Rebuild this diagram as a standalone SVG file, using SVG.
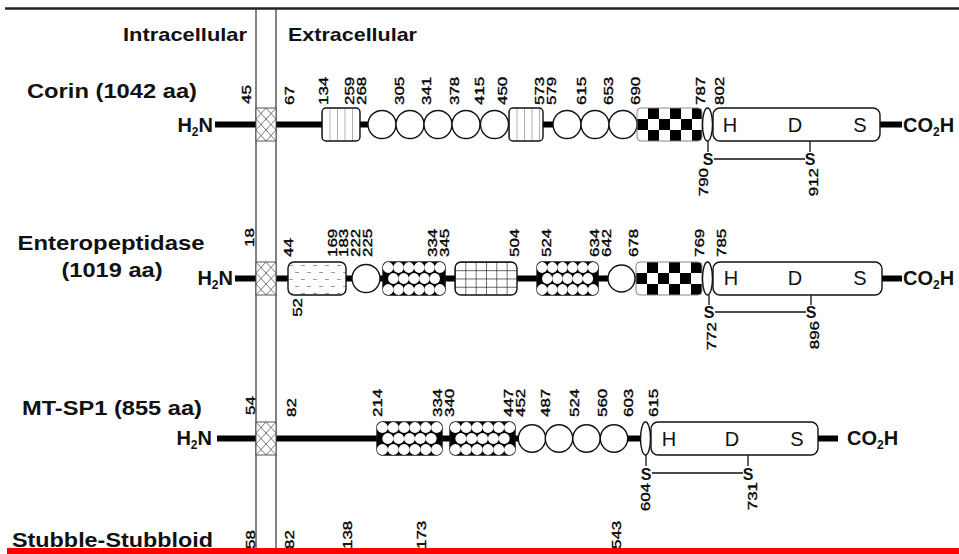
<svg xmlns="http://www.w3.org/2000/svg" xmlns:xlink="http://www.w3.org/1999/xlink" width="959" height="554" viewBox="0 0 959 554">
<style>
text{font-family:"Liberation Sans",Arial,Helvetica,sans-serif;fill:#111}
.t{font-size:19px;font-weight:bold}
.name{font-size:21px;font-weight:bold}
.term{font-size:20px;font-weight:bold}
.sub{font-size:12px}
.n{font-size:13px;fill:#000;stroke:#000;stroke-width:0.35}
.hds{font-size:20px;text-anchor:middle}
.ss{font-size:16px;font-weight:bold;text-anchor:middle}
.bb{stroke:#000;stroke-width:6;fill:none}
.thin{stroke:#111;stroke-width:1.3;fill:none}
.mem{stroke:#333;stroke-width:1.2}
.dom{stroke:#111;stroke-width:1.4}
.circ{fill:#fff;stroke:#111;stroke-width:1.4}
</style>
<defs>
<pattern id="hatch" patternUnits="userSpaceOnUse" x="0" y="-16.5" width="10" height="11">
<rect width="10" height="11" fill="#fff"/>
<path d="M0,0L10,11M10,0L0,11" stroke="#777" stroke-width="1"/>
</pattern>
<pattern id="stripes" patternUnits="userSpaceOnUse" x="0" y="-16.5" width="7.5" height="33">
<rect width="7.5" height="33" fill="#fff"/>
<path d="M0,0V33" stroke="#666" stroke-width="1"/>
</pattern>
<pattern id="stipple" patternUnits="userSpaceOnUse" x="0" y="-16.5" width="12" height="14">
<rect width="12" height="14" fill="#fff"/>
<path d="M1,3.5H5M7,10.5H11" stroke="#999" stroke-width="1"/>
</pattern>
<pattern id="grid" patternUnits="userSpaceOnUse" x="0" y="-16.5" width="10.33" height="8.25">
<rect width="10.33" height="8.25" fill="#fff"/>
<path d="M0,0V8.25M0,0H10.33" stroke="#222" stroke-width="1.3"/>
</pattern>
<pattern id="checker" patternUnits="userSpaceOnUse" x="0" y="-16.5" width="22" height="22">
<rect width="22" height="22" fill="#fff"/>
<rect x="11" y="0" width="11" height="11" fill="#000"/>
<rect x="0" y="11" width="11" height="11" fill="#000"/>
</pattern>
<g id="hex">
<rect x="0" y="-16.5" width="64" height="33" rx="5" fill="#000" stroke="#111" stroke-width="1.4"/>
<g fill="#fff">
<circle cx="5.33" cy="-11" r="5.4"/><circle cx="16" cy="-11" r="5.4"/><circle cx="26.67" cy="-11" r="5.4"/><circle cx="37.33" cy="-11" r="5.4"/><circle cx="48" cy="-11" r="5.4"/><circle cx="58.67" cy="-11" r="5.4"/>
<circle cx="10.67" cy="0" r="5.4"/><circle cx="21.33" cy="0" r="5.4"/><circle cx="32" cy="0" r="5.4"/><circle cx="42.67" cy="0" r="5.4"/><circle cx="53.33" cy="0" r="5.4"/>
<circle cx="5.33" cy="11" r="5.4"/><circle cx="16" cy="11" r="5.4"/><circle cx="26.67" cy="11" r="5.4"/><circle cx="37.33" cy="11" r="5.4"/><circle cx="48" cy="11" r="5.4"/><circle cx="58.67" cy="11" r="5.4"/>
</g>
</g>
</defs>

<rect width="959" height="554" fill="#fff"/>

<g id="frame">
<path d="M5,8.5H959" stroke="#222" stroke-width="2.5"/>
<path class="mem" d="M256,9V548M276,9V548"/>
<text class="t" x="247" y="40.5" text-anchor="end" textLength="124" lengthAdjust="spacingAndGlyphs">Intracellular</text>
<text class="t" x="288" y="40.5" textLength="129" lengthAdjust="spacingAndGlyphs">Extracellular</text>
</g>

<g id="connectors">
<path class="bb" d="M215,124.5H902"/>
<path class="bb" d="M235,278.5H902"/>
<path class="bb" d="M217,438.5H838"/>
<path class="thin" d="M708,141V152M810,141V152M714,159H805"/>
<path class="thin" d="M709,295V305M811,295V305M715,312H806"/>
<path class="thin" d="M646,455V466M748,455V466M652,473H743"/>
</g>

<!-- Corin -->
<g id="corin">
<text class="name" x="27" y="98" textLength="170" lengthAdjust="spacingAndGlyphs">Corin (1042 aa)</text>
<text class="term" x="213" y="132" text-anchor="end">H<tspan class="sub" dy="4">2</tspan><tspan dy="-4">N</tspan></text>
<g id="corin-tm" transform="translate(256,124.5)"><rect x="0" y="-16.5" width="20" height="33" fill="url(#hatch)" stroke="#555" stroke-width="1"/></g>
<g id="corin-frizzled1" transform="translate(322,124.5)"><rect class="dom" x="0" y="-16.5" width="38" height="33" rx="4" fill="url(#stripes)"/></g>
<g id="corin-ldlr1"><circle class="circ" cx="382" cy="124.5" r="14"/><circle class="circ" cx="410" cy="124.5" r="14"/><circle class="circ" cx="438" cy="124.5" r="14"/><circle class="circ" cx="466" cy="124.5" r="14"/><circle class="circ" cx="494.5" cy="124.5" r="14"/></g>
<g id="corin-frizzled2" transform="translate(509,124.5)"><rect class="dom" x="0" y="-16.5" width="34" height="33" rx="4" fill="url(#stripes)"/></g>
<g id="corin-ldlr2"><circle class="circ" cx="567" cy="124.5" r="14"/><circle class="circ" cx="595" cy="124.5" r="14"/><circle class="circ" cx="623" cy="124.5" r="14"/></g>
<g id="corin-srcr" transform="translate(637,124.5)"><rect x="0" y="-16.5" width="65" height="33" rx="4" fill="url(#checker)" stroke="#888" stroke-width="1"/></g>
<g id="corin-pro"><ellipse class="circ" cx="707.5" cy="124.5" rx="5" ry="16.5"/></g>
<g id="corin-protease">
<rect class="dom" x="713" y="108" width="167" height="33" rx="7" fill="#fff"/>
<text class="hds" x="730" y="132">H</text><text class="hds" x="795" y="132">D</text><text class="hds" x="860" y="132">S</text>
</g>
<text class="term" x="903" y="132">CO<tspan class="sub" dy="4">2</tspan><tspan dy="-4">H</tspan></text>
<text class="ss" x="708" y="165">S</text><text class="ss" x="810" y="165">S</text>
<g id="corin-numbers">
<text class="n" transform="translate(251,104) rotate(-90) scale(1.3,1)">45</text>
<text class="n" transform="translate(294,105) rotate(-90) scale(1.3,1)">67</text>
<text class="n" transform="translate(328,105) rotate(-90) scale(1.3,1)">134</text>
<text class="n" transform="translate(354,105) rotate(-90) scale(1.3,1)">259</text>
<text class="n" transform="translate(366,105) rotate(-90) scale(1.3,1)">268</text>
<text class="n" transform="translate(404,105) rotate(-90) scale(1.3,1)">305</text>
<text class="n" transform="translate(431,105) rotate(-90) scale(1.3,1)">341</text>
<text class="n" transform="translate(459,105) rotate(-90) scale(1.3,1)">378</text>
<text class="n" transform="translate(484,105) rotate(-90) scale(1.3,1)">415</text>
<text class="n" transform="translate(507,105) rotate(-90) scale(1.3,1)">450</text>
<text class="n" transform="translate(544,105) rotate(-90) scale(1.3,1)">573</text>
<text class="n" transform="translate(556,105) rotate(-90) scale(1.3,1)">579</text>
<text class="n" transform="translate(586,105) rotate(-90) scale(1.3,1)">615</text>
<text class="n" transform="translate(613,105) rotate(-90) scale(1.3,1)">653</text>
<text class="n" transform="translate(640,105) rotate(-90) scale(1.3,1)">690</text>
<text class="n" transform="translate(705,105) rotate(-90) scale(1.3,1)">787</text>
<text class="n" transform="translate(724,105) rotate(-90) scale(1.3,1)">802</text>
<text class="n" text-anchor="end" transform="translate(708,168) rotate(-90) scale(1.3,1)">790</text>
<text class="n" text-anchor="end" transform="translate(818,168) rotate(-90) scale(1.3,1)">912</text>
</g>
</g>

<!-- Enteropeptidase -->
<g id="enteropeptidase">
<text class="name" x="111" y="250" text-anchor="middle" textLength="187" lengthAdjust="spacingAndGlyphs">Enteropeptidase</text>
<text class="name" x="112" y="277" text-anchor="middle" textLength="101" lengthAdjust="spacingAndGlyphs">(1019 aa)</text>
<text class="term" x="233" y="285" text-anchor="end">H<tspan class="sub" dy="4">2</tspan><tspan dy="-4">N</tspan></text>
<g id="ep-tm" transform="translate(256,278.5)"><rect x="0" y="-16.5" width="20" height="33" fill="url(#hatch)" stroke="#555" stroke-width="1"/></g>
<g id="ep-sea" transform="translate(288,278.5)"><rect class="dom" x="0" y="-16.5" width="58" height="33" rx="6" fill="url(#stipple)"/></g>
<g id="ep-ldlr1"><circle class="circ" cx="366" cy="278.5" r="14"/></g>
<g id="ep-cub1"><use xlink:href="#hex" href="#hex" transform="translate(383,278.5) scale(0.97,1)"/></g>
<g id="ep-mam" transform="translate(455,278.5)"><rect class="dom" x="0" y="-16.5" width="62" height="33" rx="6" fill="url(#grid)"/></g>
<g id="ep-cub2"><use xlink:href="#hex" href="#hex" transform="translate(537,278.5) scale(0.955,1)"/></g>
<g id="ep-ldlr2"><circle class="circ" cx="621.5" cy="278.5" r="13.5"/></g>
<g id="ep-srcr" transform="translate(636,278.5)"><rect x="0" y="-16.5" width="66" height="33" rx="4" fill="url(#checker)" stroke="#888" stroke-width="1"/></g>
<g id="ep-pro"><ellipse class="circ" cx="707.5" cy="278.5" rx="5" ry="16.5"/></g>
<g id="ep-protease">
<rect class="dom" x="713" y="262" width="169" height="33" rx="7" fill="#fff"/>
<text class="hds" x="731" y="285">H</text><text class="hds" x="795" y="285">D</text><text class="hds" x="860" y="285">S</text>
</g>
<text class="term" x="903" y="285">CO<tspan class="sub" dy="4">2</tspan><tspan dy="-4">H</tspan></text>
<text class="ss" x="709" y="318">S</text><text class="ss" x="811" y="318">S</text>
<g id="ep-numbers">
<text class="n" transform="translate(254,247) rotate(-90) scale(1.3,1)">18</text>
<text class="n" transform="translate(293,257) rotate(-90) scale(1.3,1)">44</text>
<text class="n" transform="translate(337,257) rotate(-90) scale(1.3,1)">169</text>
<text class="n" transform="translate(348,257) rotate(-90) scale(1.3,1)">183</text>
<text class="n" transform="translate(360,257) rotate(-90) scale(1.3,1)">222</text>
<text class="n" transform="translate(372,257) rotate(-90) scale(1.3,1)">225</text>
<text class="n" transform="translate(437,257) rotate(-90) scale(1.3,1)">334</text>
<text class="n" transform="translate(449,257) rotate(-90) scale(1.3,1)">345</text>
<text class="n" transform="translate(519,257) rotate(-90) scale(1.3,1)">504</text>
<text class="n" transform="translate(551,257) rotate(-90) scale(1.3,1)">524</text>
<text class="n" transform="translate(599,257) rotate(-90) scale(1.3,1)">634</text>
<text class="n" transform="translate(611,257) rotate(-90) scale(1.3,1)">642</text>
<text class="n" transform="translate(638,257) rotate(-90) scale(1.3,1)">678</text>
<text class="n" transform="translate(704,257) rotate(-90) scale(1.3,1)">769</text>
<text class="n" transform="translate(726,257) rotate(-90) scale(1.3,1)">785</text>
<text class="n" text-anchor="end" transform="translate(302,298) rotate(-90) scale(1.3,1)">52</text>
<text class="n" text-anchor="end" transform="translate(716,322) rotate(-90) scale(1.3,1)">772</text>
<text class="n" text-anchor="end" transform="translate(819,321) rotate(-90) scale(1.3,1)">896</text>
</g>
</g>

<!-- MT-SP1 -->
<g id="mtsp1">
<text class="name" x="22" y="415" textLength="180" lengthAdjust="spacingAndGlyphs">MT-SP1 (855 aa)</text>
<text class="term" x="212" y="445" text-anchor="end">H<tspan class="sub" dy="4">2</tspan><tspan dy="-4">N</tspan></text>
<g id="mt-tm" transform="translate(256,438.5)"><rect x="0" y="-16.5" width="20" height="33" fill="url(#hatch)" stroke="#555" stroke-width="1"/></g>
<g id="mt-cub1"><use xlink:href="#hex" href="#hex" transform="translate(377,438.5) scale(1.016,1)"/></g>
<g id="mt-cub2"><use xlink:href="#hex" href="#hex" transform="translate(450,438.5) scale(1.016,1)"/></g>
<g id="mt-ldlr"><circle class="circ" cx="532" cy="438.5" r="13.7"/><circle class="circ" cx="559" cy="438.5" r="13.7"/><circle class="circ" cx="586.5" cy="438.5" r="13.7"/><circle class="circ" cx="614" cy="438.5" r="13.7"/></g>
<g id="mt-pro"><ellipse class="circ" cx="645.5" cy="438.5" rx="5" ry="16.5"/></g>
<g id="mt-protease">
<rect class="dom" x="651" y="422" width="167" height="33" rx="7" fill="#fff"/>
<text class="hds" x="669" y="446">H</text><text class="hds" x="732" y="446">D</text><text class="hds" x="797" y="446">S</text>
</g>
<text class="term" x="847" y="445">CO<tspan class="sub" dy="4">2</tspan><tspan dy="-4">H</tspan></text>
<text class="ss" x="646" y="480">S</text><text class="ss" x="748" y="480">S</text>
<g id="mt-numbers">
<text class="n" transform="translate(255,415) rotate(-90) scale(1.3,1)">54</text>
<text class="n" transform="translate(296,417) rotate(-90) scale(1.3,1)">82</text>
<text class="n" transform="translate(382,417) rotate(-90) scale(1.3,1)">214</text>
<text class="n" transform="translate(442,417) rotate(-90) scale(1.3,1)">334</text>
<text class="n" transform="translate(454,417) rotate(-90) scale(1.3,1)">340</text>
<text class="n" transform="translate(513,417) rotate(-90) scale(1.3,1)">447</text>
<text class="n" transform="translate(525,417) rotate(-90) scale(1.3,1)">452</text>
<text class="n" transform="translate(550,417) rotate(-90) scale(1.3,1)">487</text>
<text class="n" transform="translate(579,417) rotate(-90) scale(1.3,1)">524</text>
<text class="n" transform="translate(607,417) rotate(-90) scale(1.3,1)">560</text>
<text class="n" transform="translate(633,417) rotate(-90) scale(1.3,1)">603</text>
<text class="n" transform="translate(658,417) rotate(-90) scale(1.3,1)">615</text>
<text class="n" text-anchor="end" transform="translate(650,483) rotate(-90) scale(1.3,1)">604</text>
<text class="n" text-anchor="end" transform="translate(757,482) rotate(-90) scale(1.3,1)">731</text>
</g>
</g>

<!-- Stubble-Stubbloid (cut off) -->
<g id="stubble">
<text class="name" x="12" y="547" font-size="22" textLength="201" lengthAdjust="spacingAndGlyphs">Stubble-Stubbloid</text>
<g id="stubble-numbers">
<text class="n" transform="translate(255,549) rotate(-90) scale(1.3,1)">58</text>
<text class="n" transform="translate(294,549) rotate(-90) scale(1.3,1)">82</text>
<text class="n" transform="translate(352,549) rotate(-90) scale(1.3,1)">138</text>
<text class="n" transform="translate(426,549) rotate(-90) scale(1.3,1)">173</text>
<text class="n" transform="translate(621,549) rotate(-90) scale(1.3,1)">543</text>
</g>
</g>

<rect id="cutline" x="7" y="548" width="952" height="6" fill="#f00"/>
</svg>
